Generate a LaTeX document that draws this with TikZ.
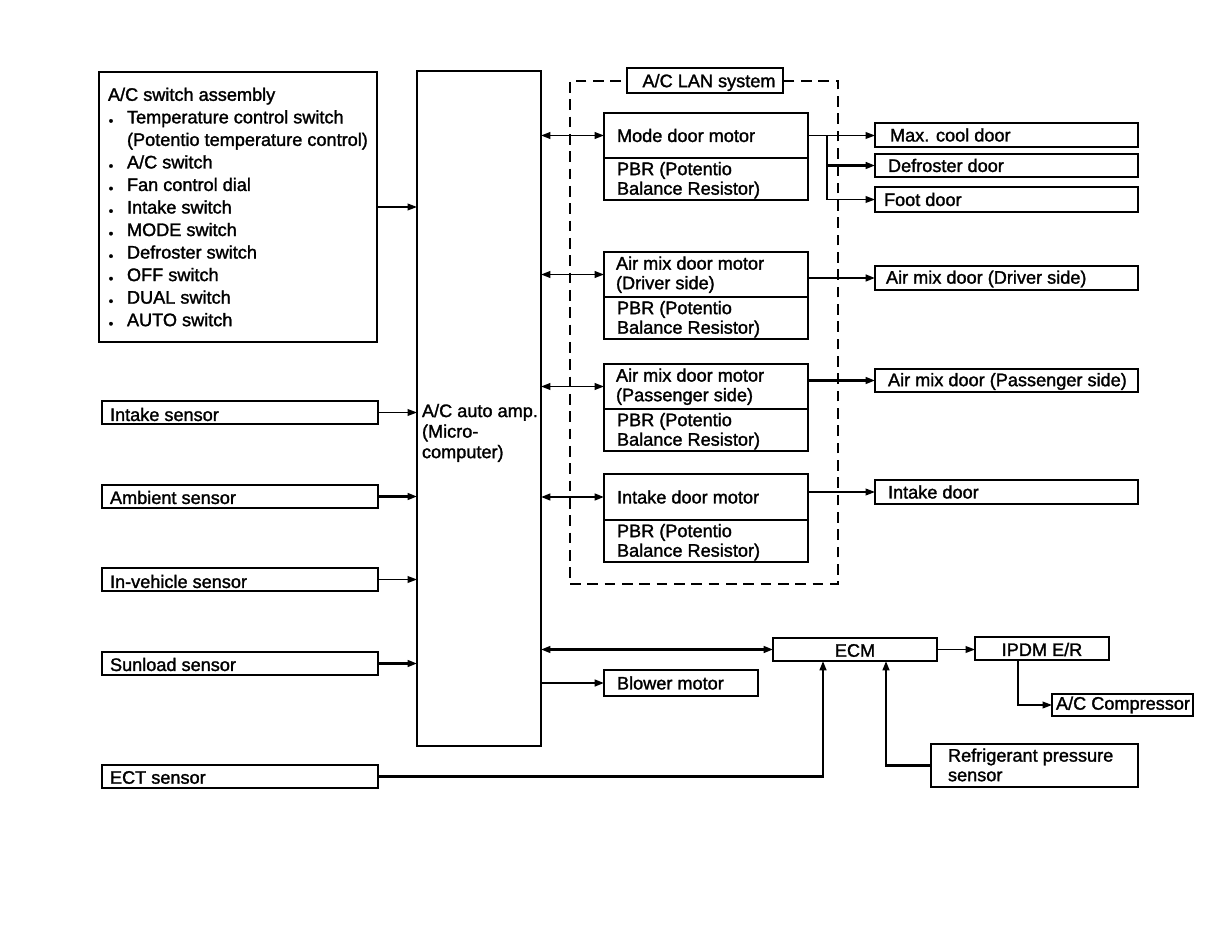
\documentclass[tikz,border=0pt]{standalone}
\usepackage{fontspec}
\setmainfont{Liberation Sans}[BoldFont={Liberation Sans},BoldFeatures={FakeBold=1.5}]
\usetikzlibrary{arrows.meta,fit,calc}
\newcommand\bul{\makebox[14.25pt][l]{\hspace{0.5pt}\raisebox{-1.5pt}{\fontsize{10}{10}\selectfont •}}}
\newcommand\ml[1]{\begin{tabular}{@{}l@{}}#1\end{tabular}}
\begin{document}
\begin{tikzpicture}[x=0.75pt,y=-0.75pt,
  box/.style={draw, line width=1.3pt, inner sep=0pt, outer sep=0pt},
  txt/.style={inner sep=0pt, outer sep=0pt, anchor=west, font=\fontsize{13.6}{14.7}\selectfont\bfseries},
  ctxt/.style={inner sep=0pt, outer sep=0pt, font=\fontsize{13.6}{14.7}\selectfont\bfseries},
  tip/.tip={Triangle[length=7pt,width=5pt]},
  con/.style={line width=1.1pt, -tip},
  tcon/.style={line width=1.6pt, -tip},
  dcon/.style={line width=1.3pt, tip-tip},
  lan/.style={draw, line width=1.9pt, dash pattern=on 8pt off 5pt, inner sep=0pt, outer sep=0pt}]
\fill[white] (0,0) rectangle (1216,944);
\useasboundingbox (0,0) rectangle (1216,944);

% A/C switch assembly
\node[box, fit={(99,72) (377,342)}] (sw) {};
\node[txt, font=\fontsize{13.6}{16.9}\selectfont\bfseries] (swt) at ($(sw.west)+(9,2)$) {\begin{tabular}{@{}l@{}l@{}}
\multicolumn{2}{@{}l@{}}{A/C switch assembly}\\
\bul & Temperature control switch\\
 & (Potentio temperature control)\\
\bul & A/C switch\\
\bul & Fan control dial\\
\bul & Intake switch\\
\bul & MODE switch\\
\bul & Defroster switch\\
\bul & OFF switch\\
\bul & DUAL switch\\
\bul & AUTO switch
\end{tabular}};

% A/C auto amp
\node[box, line width=1.5pt, fit={(417,71) (541,746)}] (amp) {};
\node[txt, font=\fontsize{13.6}{15.4}\selectfont\bfseries] (ampt) at ($(amp.west)+(5,25)$) {\ml{A/C auto amp.\\(Micro-\\computer)}};

% sensors
\node[box, fit={(102,401) (378,424)}] (is) {};
\node[txt] (ist) at ($(is.west)+(8,2)$) {Intake sensor};
\node[box, fit={(102,485) (378,508)}] (as) {};
\node[txt] (ast) at ($(as.west)+(8,1)$) {Ambient sensor};
\node[box, fit={(102,568) (378,591)}] (iv) {};
\node[txt] (ivt) at ($(iv.west)+(8,2)$) {In-vehicle sensor};
\node[box, fit={(102,652) (378,675)}] (sl) {};
\node[txt] (slt) at ($(sl.west)+(8,1)$) {Sunload sensor};
\node[box, fit={(102,765) (378,788)}] (ect) {};
\node[txt] (ectt) at ($(ect.west)+(8,1)$) {ECT sensor};

% A/C LAN system frame
\node[lan, fit={(570,81) (838,584)}] (lanbox) {};
\node[box, fill=white, fit={(627,68) (783,93)}] (lanl) {};
\node[ctxt] (lant) at ($(lanl.center)+(4,2)$) {A/C LAN system};

% motors
\node[box, fit={(604,113) (808,158)}] (mdm) {};
\node[box, fit={(604,158) (808,200)}] (mdp) {};
\node[txt] (mdmt) at ($(mdm.west)+(13,0)$) {Mode door motor};
\node[txt] (mdpt) at ($(mdp.west)+(13,2)$) {\ml{PBR (Potentio\\Balance Resistor)}};

\node[box, fit={(604,252) (808,297)}] (amd) {};
\node[box, fit={(604,297) (808,339)}] (amdp) {};
\node[txt] (amdt) at ($(amd.west)+(12,1)$) {\ml{Air mix door motor\\(Driver side)}};
\node[txt] (amdpt) at ($(amdp.west)+(13,2)$) {\ml{PBR (Potentio\\Balance Resistor)}};

\node[box, fit={(604,364) (808,409)}] (apm) {};
\node[box, fit={(604,409) (808,451)}] (apmp) {};
\node[txt] (apmt) at ($(apm.west)+(12,1)$) {\ml{Air mix door motor\\(Passenger side)}};
\node[txt] (apmpt) at ($(apmp.west)+(13,2)$) {\ml{PBR (Potentio\\Balance Resistor)}};

\node[box, fit={(604,474) (808,520)}] (idm) {};
\node[box, fit={(604,520) (808,562)}] (idmp) {};
\node[txt] (idmt) at ($(idm.west)+(13,0)$) {Intake door motor};
\node[txt] (idmpt) at ($(idmp.west)+(13,2)$) {\ml{PBR (Potentio\\Balance Resistor)}};

% doors
\node[box, fit={(875,123) (1138,147)}] (mc) {};
\node[txt] (mct) at ($(mc.west)+(15,0)$) {Max. cool door};
\node[box, fit={(875,154) (1138,177)}] (df) {};
\node[txt] (dft) at ($(df.west)+(13,0)$) {Defroster door};
\node[box, fit={(875,187) (1138,212)}] (ft) {};
\node[txt] (ftt) at ($(ft.west)+(9,0)$) {Foot door};
\node[box, fit={(875,266) (1138,290)}] (ad) {};
\node[txt] (adt) at ($(ad.west)+(11,1)$) {Air mix door (Driver side)};
\node[box, fit={(875,369) (1138,392)}] (ap) {};
\node[txt] (apt) at ($(ap.west)+(13,1)$) {Air mix door (Passenger side)};
\node[box, fit={(875,480) (1138,504)}] (idr) {};
\node[txt] (idrt) at ($(idr.west)+(13,0)$) {Intake door};

% bottom blocks
\node[box, fit={(773,638) (937,661)}] (ecm) {};
\node[ctxt] (ecmt) at ($(ecm.center)+(0,1)$) {ECM};
\node[box, fit={(604,670) (758,696)}] (bl) {};
\node[txt] (blt) at ($(bl.west)+(13,0)$) {Blower motor};
\node[box, fit={(975,637) (1109,660)}] (ipdm) {};
\node[ctxt] (ipdmt) at ($(ipdm.center)+(0,1)$) {IPDM E/R};
\node[box, fit={(1052,694) (1193,716)}] (comp) {};
\node[txt] (compt) at ($(comp.west)+(4,0)$) {A/C Compressor};
\node[box, fit={(931,744) (1138,787)}] (rps) {};
\node[txt] (rpst) at ($(rps.west)+(17,2)$) {\ml{Refrigerant pressure\\sensor}};

% connectors
\draw[con] (sw.east) -- (sw.east -| amp.west);
\draw[con] (is.east) -- (is.east -| amp.west);
\draw[tcon] (as.east) -- (as.east -| amp.west);
\draw[con] (iv.east) -- (iv.east -| amp.west);
\draw[tcon] (sl.east) -- (sl.east -| amp.west);

\draw[dcon] (amp.east |- mdm.west) -- (mdm.west);
\draw[dcon] (amp.east |- amd.west) -- (amd.west);
\draw[dcon] (amp.east |- apm.west) -- (apm.west);
\draw[tcon, tip-tip] (amp.east |- idm.west) -- (idm.west);

\draw[con] (mdm.east) -- (mdm.east -| mc.west);
\coordinate (br) at ($(mdm.east)+(19,0)$);
\draw[tcon] (br) |- (df.west);
\draw[con] (br) |- (ft.west);
\draw[tcon] (amd.east |- ad.west) -- (ad.west);
\draw[tcon] (apm.east |- ap.west) -- (ap.west);
\draw[con] (idm.east |- idr.west) -- (idr.west);

\draw[tcon, tip-tip] (amp.east |- ecm.west) -- (ecm.west);
\draw[tcon] (amp.east |- bl.west) -- (bl.west);
\draw[con] (ecm.east) -- (ecm.east -| ipdm.west);
\draw[con] ($(ipdm.south west)+(43,0)$) |- (comp.west);
\draw[tcon] (rps.west) -| ($(ecm.south west)+(113,0)$);
\draw[tcon] (ect.east) -| ($(ecm.south west)+(50,0)$);
\end{tikzpicture}
\end{document}
